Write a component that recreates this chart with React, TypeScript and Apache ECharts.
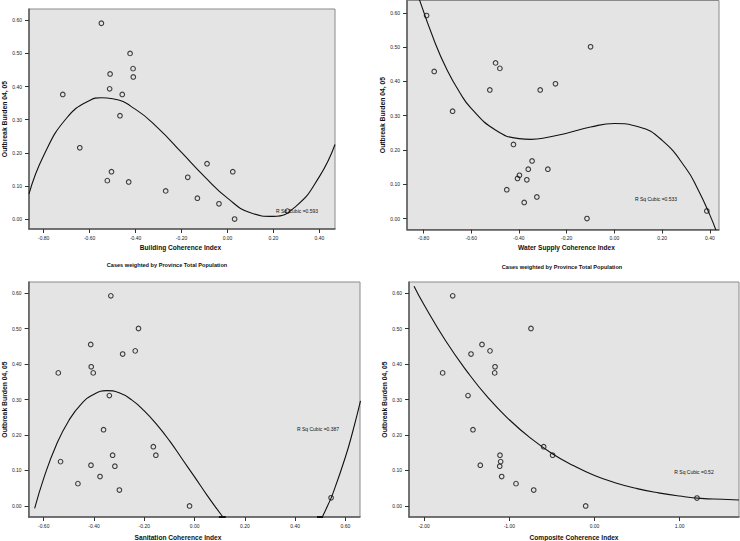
import React, { useEffect, useRef } from "react";
import * as echarts from "echarts";

// ---------- data ----------
const outbreakTicks = [0, 0.1, 0.2, 0.3, 0.4, 0.5, 0.6];
const buildingTicks = [-0.8, -0.6, -0.4, -0.2, 0, 0.2, 0.4];
const waterTicks = [-0.8, -0.6, -0.4, -0.2, 0, 0.2, 0.4];
const sanitationTicks = [-0.6, -0.4, -0.2, 0, 0.2, 0.4, 0.6];
const compositeTicks = [-2, -1, 0, 1];

const buildingPoints = [
  [-0.549, 0.591], [-0.424, 0.5], [-0.411, 0.454], [-0.511, 0.438], [-0.41, 0.429],
  [-0.513, 0.393], [-0.717, 0.376], [-0.458, 0.376], [-0.468, 0.312], [-0.643, 0.215],
  [-0.505, 0.143], [-0.523, 0.116], [-0.43, 0.112], [-0.269, 0.085], [-0.173, 0.126],
  [-0.089, 0.167], [-0.131, 0.063], [0.023, 0.143], [-0.037, 0.046], [0.031, 0.0],
  [0.261, 0.024],
];
const buildingFit = [
  [-0.864, 0.076], [-0.8, 0.192], [-0.7, 0.305], [-0.6, 0.358], [-0.55, 0.366], [-0.5, 0.363],
  [-0.4, 0.331], [-0.3, 0.273], [-0.2, 0.201], [-0.1, 0.128], [0, 0.063], [0.1, 0.019],
  [0.2, 0.008], [0.3, 0.04], [0.4, 0.128], [0.468, 0.225],
];

const waterPoints = [
  [-0.787, 0.592], [-0.1, 0.501], [-0.755, 0.429], [-0.498, 0.454], [-0.48, 0.438],
  [-0.522, 0.375], [-0.311, 0.375], [-0.247, 0.393], [-0.678, 0.313], [-0.423, 0.216],
  [-0.345, 0.168], [-0.361, 0.144], [-0.279, 0.144], [-0.398, 0.126], [-0.406, 0.117],
  [-0.367, 0.113], [-0.451, 0.084], [-0.325, 0.063], [-0.378, 0.047], [-0.115, 0.0],
  [0.387, 0.022],
];
const waterFit = [
  [-0.82, 0.645], [-0.75, 0.51], [-0.7, 0.432], [-0.65, 0.37], [-0.6, 0.321], [-0.5, 0.259],
  [-0.4, 0.233], [-0.35, 0.231], [-0.3, 0.234], [-0.2, 0.249], [-0.1, 0.267], [0, 0.277],
  [0.1, 0.268], [0.2, 0.228], [0.3, 0.146], [0.35, 0.085], [0.4, 0.01], [0.43, -0.043],
];

const sanitationPoints = [
  [-0.333, 0.592], [-0.223, 0.5], [-0.413, 0.455], [-0.236, 0.437], [-0.286, 0.428],
  [-0.411, 0.392], [-0.542, 0.375], [-0.403, 0.375], [-0.339, 0.311], [-0.362, 0.215],
  [-0.164, 0.167], [-0.154, 0.143], [-0.326, 0.143], [-0.533, 0.125], [-0.412, 0.115],
  [-0.317, 0.112], [-0.376, 0.083], [-0.464, 0.063], [-0.299, 0.045], [-0.02, 0.0],
  [0.543, 0.023],
];
const sanitationFitLeft = [
  [-0.636, -0.007], [-0.6, 0.078], [-0.55, 0.172], [-0.5, 0.241], [-0.45, 0.288],
  [-0.4, 0.315], [-0.35, 0.325], [-0.3, 0.319], [-0.25, 0.299], [-0.2, 0.268],
  [-0.15, 0.229], [-0.1, 0.184], [-0.05, 0.133], [0, 0.082], [0.05, 0.03],
  [0.1, -0.019], [0.113, -0.031],
];
const sanitationFitRight = [
  [0.508, -0.031], [0.53, 0.002], [0.55, 0.035], [0.6, 0.138], [0.63, 0.212], [0.66, 0.296],
];
const sanitationStubA = [[0.097, -0.031], [0.124, -0.031]];
const sanitationStubB = [[0.487, -0.031], [0.511, -0.031]];

const compositePoints = [
  [-1.665, 0.592], [-0.746, 0.5], [-1.321, 0.455], [-1.227, 0.437], [-1.45, 0.428],
  [-1.168, 0.392], [-1.172, 0.375], [-1.783, 0.375], [-1.485, 0.311], [-1.427, 0.215],
  [-0.597, 0.167], [-0.492, 0.143], [-1.11, 0.143], [-1.102, 0.125], [-1.341, 0.115],
  [-1.113, 0.112], [-1.09, 0.083], [-0.922, 0.063], [-0.714, 0.045], [-0.104, 0.0],
  [1.203, 0.0225],
];
const compositeFit = [
  [-2.119, 0.619], [-2.0, 0.566], [-1.75, 0.466], [-1.5, 0.38], [-1.25, 0.305], [-1.0, 0.243],
  [-0.75, 0.191], [-0.5, 0.148], [-0.25, 0.114], [0, 0.086], [0.25, 0.065], [0.5, 0.049],
  [0.75, 0.037], [1.0, 0.028], [1.25, 0.0215], [1.5, 0.019], [1.696, 0.017],
];

const yTitle = "Outbreak Burden 04, 05";
const xTitles = [
  "Building Coherence Index",
  "Water Supply Coherence Index",
  "Sanitation Coherence Index",
  "Composite Coherence Index",
];
const footnote = "Cases weighted by Province Total Population";
const rSquareLabels = ["R Sq Cubic =0.593", "R Sq Cubic =0.533", "R Sq Cubic =0.387", "R Sq Cubic =0.52"];

// ---------- layout ----------
const FONT = "'Liberation Sans', Arial, sans-serif";

const panels = [
  { grid: { left: 29, top: 9, width: 306, height: 220 }, x: [-0.864, 0.468], y: [-0.03, 0.634], xt: buildingTicks, gap: 20 },
  { grid: { left: 407, top: 0.5, width: 312, height: 229 }, x: [-0.869, 0.438], y: [-0.032, 0.636], xt: waterTicks, gap: 18 },
  { grid: { left: 28, top: 282, width: 332, height: 235 }, x: [-0.66, 0.658], y: [-0.031, 0.631], xt: sanitationTicks, gap: 20.5 },
  { grid: { left: 409, top: 282, width: 330, height: 235 }, x: [-2.178, 1.696], y: [-0.031, 0.631], xt: compositeTicks, gap: 20.5 },
];

const xTitlePos = [[180.5, 247.5], [566.5, 247.5], [178, 537], [574, 537.5]];
const footPos = [[167, 265], [562, 266.5]];
const rPos = [[297, 211], [656, 199], [318, 429], [694, 471.5]];

function fmt(v: number) {
  return (Math.abs(v) < 1e-9 ? 0 : v).toFixed(2);
}

export default function App() {
  const ref = useRef<HTMLDivElement>(null);
  useEffect(() => {
    if (!ref.current) return;
    const chart = echarts.init(ref.current, undefined, { renderer: "svg" });

    const axisCommon = {
      type: "value",
      splitLine: { show: false },
      axisLine: { show: true, onZero: false, lineStyle: { color: "#5a5a5a", width: 1.5 } },
      axisTick: { show: true, inside: false, length: 4, lineStyle: { color: "#333", width: 1 } },
    };

    const xAxis = panels.map((p, i) => ({
      ...axisCommon,
      gridIndex: i,
      min: p.x[0],
      max: p.x[1],
      axisTick: { ...axisCommon.axisTick, customValues: p.xt },
      axisLabel: { customValues: p.xt, formatter: fmt, fontSize: 5, color: "#222", margin: 6, fontFamily: FONT },
    }));

    const yAxis = panels.map((p, i) => ({
      ...axisCommon,
      gridIndex: i,
      min: p.y[0],
      max: p.y[1],
      axisTick: { ...axisCommon.axisTick, customValues: outbreakTicks },
      axisLabel: { customValues: outbreakTicks, formatter: fmt, fontSize: 5, color: "#222", margin: 7, fontFamily: FONT },
      name: yTitle,
      nameLocation: "middle",
      nameRotate: 90,
      nameGap: p.gap,
      nameTextStyle: { fontSize: 6.8, fontWeight: "bold", color: "#111", fontFamily: FONT },
    }));

    const lineStyle = { color: "#111", width: 1.1 };
    const curve = (data: number[][], i: number, smooth = true, clip = true) => ({
      type: "line",
      xAxisIndex: i,
      yAxisIndex: i,
      data,
      smooth,
      clip,
      showSymbol: false,
      symbol: "none",
      lineStyle: smooth ? lineStyle : { color: "#111", width: 2 },
      silent: true,
      z: 2,
    });
    const scatter = (data: number[][], i: number) => ({
      type: "scatter",
      xAxisIndex: i,
      yAxisIndex: i,
      data,
      symbol: "circle",
      symbolSize: 4.6,
      itemStyle: { color: "rgba(0,0,0,0)", borderColor: "#111", borderWidth: 1.1 },
      z: 3,
    });

    const graphics: any[] = [];
    xTitles.forEach((t, i) => {
      graphics.push({
        type: "text",
        x: xTitlePos[i][0],
        y: xTitlePos[i][1],
        style: { text: t, fontSize: 6.6, fontWeight: "bold", fill: "#111", fontFamily: FONT, align: "center", verticalAlign: "middle" },
      });
    });
    footPos.forEach((p) => {
      graphics.push({
        type: "text",
        x: p[0],
        y: p[1],
        style: { text: footnote, fontSize: 5.6, fontWeight: "bold", fill: "#111", fontFamily: FONT, align: "center", verticalAlign: "middle" },
      });
    });
    rSquareLabels.forEach((t, i) => {
      graphics.push({
        type: "text",
        x: rPos[i][0],
        y: rPos[i][1],
        z: 10,
        style: { text: t, fontSize: 5, fill: "#111", fontFamily: FONT, align: "center", verticalAlign: "middle" },
      });
    });

    chart.setOption({
      animation: false,
      backgroundColor: "#ffffff",
      grid: panels.map((p) => ({
        ...p.grid,
        show: true,
        backgroundColor: "#e4e4e4",
        borderColor: "#8a8a8a",
        borderWidth: 1,
      })),
      xAxis,
      yAxis,
      series: [
        curve(buildingFit, 0),
        scatter(buildingPoints, 0),
        curve(waterFit, 1),
        scatter(waterPoints, 1),
        curve(sanitationFitLeft, 2),
        curve(sanitationFitRight, 2),
        curve(sanitationStubA, 2, false, false),
        curve(sanitationStubB, 2, false, false),
        scatter(sanitationPoints, 2),
        curve(compositeFit, 3),
        scatter(compositePoints, 3),
      ],
      graphic: graphics,
    });

    return () => chart.dispose();
  }, []);

  return (
    <div
      ref={ref}
      style={{ position: "fixed", left: 0, top: 0, width: 740, height: 541, background: "#fff" }}
    />
  );
}
